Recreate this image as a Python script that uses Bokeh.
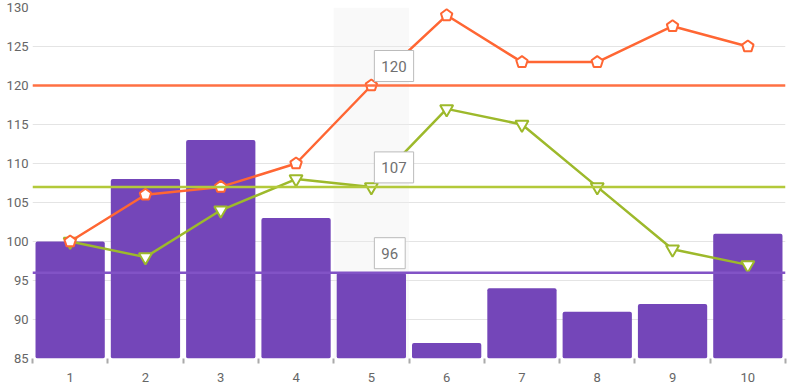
from bokeh.plotting import figure
from bokeh.models import (Range1d, FixedTicker, Span, Label, ColumnDataSource)
from bokeh.embed import file_html
from bokeh.resources import INLINE

# ---- data ----
categories = [1, 2, 3, 4, 5, 6, 7, 8, 9, 10]
bar_values = [100, 108, 113, 103, 96, 87, 94, 91, 92, 101]
orange_values = [100, 106, 107, 110, 120, 129, 123, 123, 127.6, 125]
green_values = [100, 98, 104, 108, 107, 117, 115, 107, 99, 97]
y_ticks = [85, 90, 95, 100, 105, 110, 115, 120, 125, 130]
hover_index = 4  # category 5

PURPLE = "#7446B9"
ORANGE = "#FF6633"
GREEN = "#9DB92B"
FONT = "Roboto"

src = ColumnDataSource(dict(x=categories, bar=bar_values,
                            orange=orange_values, green=green_values))

p = figure(width=789, height=384, output_backend="svg", toolbar_location=None,
           x_range=Range1d(0.5, 10.5), y_range=Range1d(85, 130),
           min_border_left=32, min_border_right=4, min_border_top=7,
           min_border_bottom=25)
p.outline_line_color = None
p.background_fill_color = "white"

# grid
p.xgrid.grid_line_color = None
p.ygrid.grid_line_color = "#E4E4E4"
p.ygrid.grid_line_width = 1

# y axis
p.yaxis.ticker = FixedTicker(ticks=y_ticks)
p.yaxis.axis_line_color = None
p.yaxis.major_tick_line_color = None
p.yaxis.minor_tick_line_color = None
p.yaxis.major_tick_in = 0
p.yaxis.major_tick_out = 0
p.yaxis.major_label_standoff = 4
p.yaxis.major_label_text_font = FONT
p.yaxis.major_label_text_font_size = "13px"
p.yaxis.major_label_text_color = "#666666"

# x axis: labels at centres, tick marks at category boundaries
p.xaxis.ticker = FixedTicker(ticks=categories,
                             minor_ticks=[c - 0.5 for c in categories] + [categories[-1] + 0.5])
p.xaxis.axis_line_color = None
p.xaxis.major_tick_line_color = None
p.xaxis.major_tick_in = 0
p.xaxis.major_tick_out = 0
p.xaxis.minor_tick_line_color = "#AAAAAA"
p.xaxis.minor_tick_line_width = 2
p.xaxis.minor_tick_in = 0
p.xaxis.minor_tick_out = 5
p.xaxis.major_label_standoff = 9
p.xaxis.major_label_text_font = FONT
p.xaxis.major_label_text_font_size = "13px"
p.xaxis.major_label_text_color = "#666666"

# crosshair band at hovered category
hx = categories[hover_index]
p.quad(left=[hx - 0.5], right=[hx + 0.5], bottom=[85], top=[130],
       fill_color="#EEEEEE", fill_alpha=0.35, line_color=None)

# bars
p.vbar(x="x", top="bar", bottom=85, width=0.92, source=src,
       fill_color=PURPLE, line_color=None, border_radius=2)

# crosshair horizontal lines
for val, col in [(orange_values[hover_index], "#FF7043"),
                 (green_values[hover_index], "#B3C93A"),
                 (bar_values[hover_index], "#8253C6")]:
    p.add_layout(Span(location=val, dimension="width", line_color=col, line_width=2.5))

# green series
p.line("x", "green", source=src, line_color=GREEN, line_width=2.5)
p.scatter("x", "green", source=src, marker="inverted_triangle", size=13,
          fill_color="white", line_color=GREEN, line_width=2)

# orange series
p.line("x", "orange", source=src, line_color=ORANGE, line_width=2.5)
p.ngon("x", "orange", radius=6, radius_units="screen", n=5, source=src,
       fill_color="white", line_color=ORANGE, line_width=2)

# tooltips
for val in [orange_values[hover_index], green_values[hover_index], bar_values[hover_index]]:
    lab = Label(x=hx, y=val, x_offset=3, y_offset=4, text=str(int(val)),
                text_font=FONT, text_font_size="15px", text_color="#707070",
                text_align="left", text_baseline="bottom",
                background_fill_color="white", border_line_color="#BBBBBB",
                border_line_width=1,
                padding=(7, 10))
    p.add_layout(lab)

open("out.html", "w").write(file_html(p, INLINE))
